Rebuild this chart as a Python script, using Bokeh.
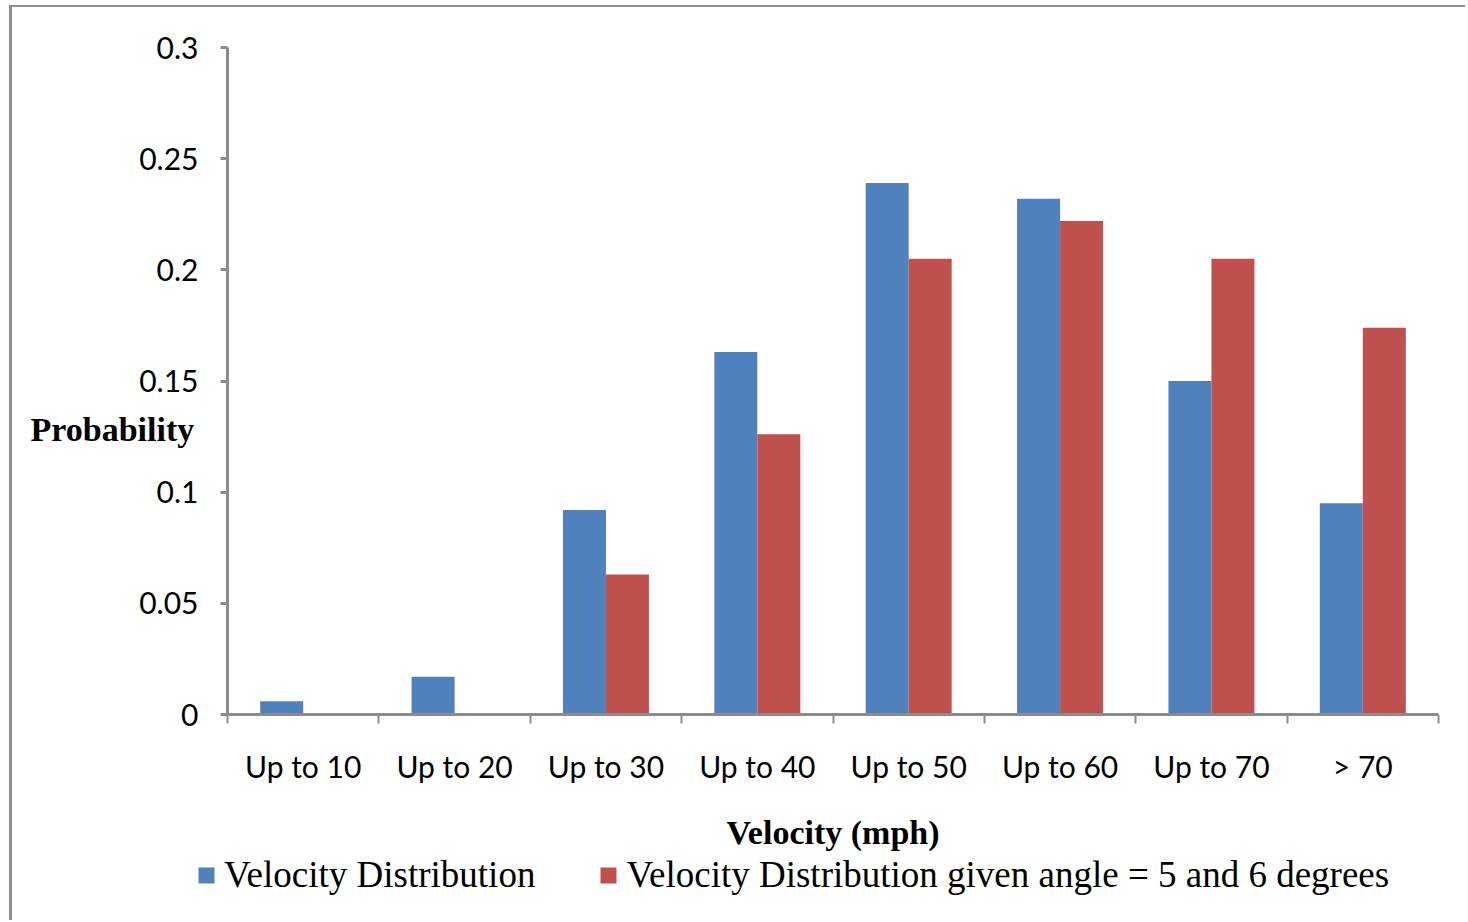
from bokeh.plotting import figure
from bokeh.models import (ColumnDataSource, Range1d, FixedTicker,
                          NumeralTickFormatter, Legend, LegendItem)
from bokeh.transform import dodge
from bokeh.embed import file_html
from bokeh.resources import INLINE

categories = ["Up to 10", "Up to 20", "Up to 30", "Up to 40", "Up to 50", "Up to 60", "Up to 70", "> 70"]
velocity_dist = [0.006, 0.017, 0.092, 0.163, 0.239, 0.232, 0.150, 0.095]
velocity_dist_angle = [0.0, 0.0, 0.063, 0.126, 0.205, 0.222, 0.205, 0.174]
y_ticks = [0, 0.05, 0.1, 0.15, 0.2, 0.25, 0.3]
series_names = ["Velocity Distribution", "Velocity Distribution given angle = 5 and 6 degrees"]

BLUE = "#4F81BD"
RED = "#C0504D"
AXIS = "#8C8C8C"
FRAME = "3px solid #8f8f8f"

n = len(categories)
centers = [i + 0.5 for i in range(n)]
bounds = list(range(n + 1))
src = ColumnDataSource(dict(x=centers, cat=categories, a=velocity_dist, b=velocity_dist_angle))

p = figure(width=1456, height=848, x_range=Range1d(0, n),
           y_range=Range1d(0, 0.3), output_backend="svg", toolbar_location=None,
           min_border_left=215, min_border_right=30, min_border_top=40, min_border_bottom=141)
p.margin = (5, 0, 0, 9)
p.styles = {"border-left": FRAME, "border-top": "2px solid #8f8f8f"}
p.outline_line_color = None
p.xgrid.grid_line_color = None
p.ygrid.grid_line_color = None
p.background_fill_color = "white"
p.border_fill_color = "white"

bw = 0.284
r1 = p.vbar(x=dodge("x", -bw / 2), top="a", width=bw, source=src,
            fill_color=BLUE, line_color=None)
r2 = p.vbar(x=dodge("x", bw / 2), top="b", width=bw, source=src,
            fill_color=RED, line_color=None)

# y axis
ya = p.yaxis[0]
ya.ticker = FixedTicker(ticks=y_ticks)
ya.formatter = NumeralTickFormatter(format="0.[00]")
ya.axis_line_color = AXIS
ya.axis_line_width = 3
ya.major_tick_line_color = AXIS
ya.major_tick_line_width = 3
ya.major_tick_out = 7
ya.major_tick_in = 0
ya.minor_tick_line_color = None
ya.major_label_text_font = "Lato"
ya.major_label_text_font_size = "30px"
ya.major_label_text_color = "black"
ya.major_label_standoff = 22
ya.axis_label = "\n\nProbability"
ya.axis_label_orientation = "horizontal"
ya.axis_label_text_font = "Liberation Serif"
ya.axis_label_text_font_style = "bold"
ya.axis_label_text_font_size = "34px"
ya.axis_label_text_line_height = 1.3
ya.axis_label_text_color = "black"
ya.axis_label_standoff = -58

# x axis: labels at category centres, ticks at category boundaries
xa = p.xaxis[0]
xa.ticker = FixedTicker(ticks=centers, minor_ticks=bounds)
xa.major_label_overrides = {c: cat for c, cat in zip(centers, categories)}
xa.axis_line_color = AXIS
xa.axis_line_width = 3
xa.major_tick_line_color = None
xa.major_tick_out = 0
xa.major_tick_in = 0
xa.minor_tick_line_color = AXIS
xa.minor_tick_line_width = 2
xa.minor_tick_out = 9
xa.minor_tick_in = 0
xa.major_label_text_font = "Lato"
xa.major_label_text_font_size = "30px"
xa.major_label_text_color = "black"
xa.major_label_standoff = 24
xa.axis_label = "Velocity (mph)"
xa.axis_label_text_font = "Liberation Serif"
xa.axis_label_text_font_style = "bold"
xa.axis_label_text_font_size = "34px"
xa.axis_label_text_color = "black"
xa.axis_label_standoff = 27

# legend strip below the chart (separate root so its frame is not aligned to the chart's)
p2 = figure(width=1456, height=67, x_range=Range1d(0, n), y_range=Range1d(1, 2),
            output_backend="svg", toolbar_location=None, min_border=0,
            x_axis_location=None, y_axis_location=None)
p2.margin = (0, 0, 0, 9)
p2.styles = {"border-left": FRAME}
p2.xgrid.grid_line_color = None
p2.ygrid.grid_line_color = None
p2.outline_line_color = None
p2.background_fill_color = "white"
p2.border_fill_color = "white"
k1 = p2.vbar(x=dodge("x", -bw / 2), top="a", width=bw, source=src, fill_color=BLUE, line_color=None)
k2 = p2.vbar(x=dodge("x", bw / 2), top="b", width=bw, source=src, fill_color=RED, line_color=None)

legend = Legend(items=[LegendItem(label=series_names[0], renderers=[k1]),
                       LegendItem(label=series_names[1], renderers=[k2])],
                orientation="horizontal", location=(184, 24))
legend.label_text_font = "Liberation Serif"
legend.label_text_font_size = "37px"
legend.label_text_color = "black"
legend.glyph_width = 20
legend.glyph_height = 20
legend.label_standoff = 8
legend.spacing = 63
legend.padding = 0
legend.margin = 0
legend.border_line_color = None
legend.background_fill_alpha = 0
p2.add_layout(legend, "center")

open("out.html", "w").write(file_html([p, p2], INLINE))
